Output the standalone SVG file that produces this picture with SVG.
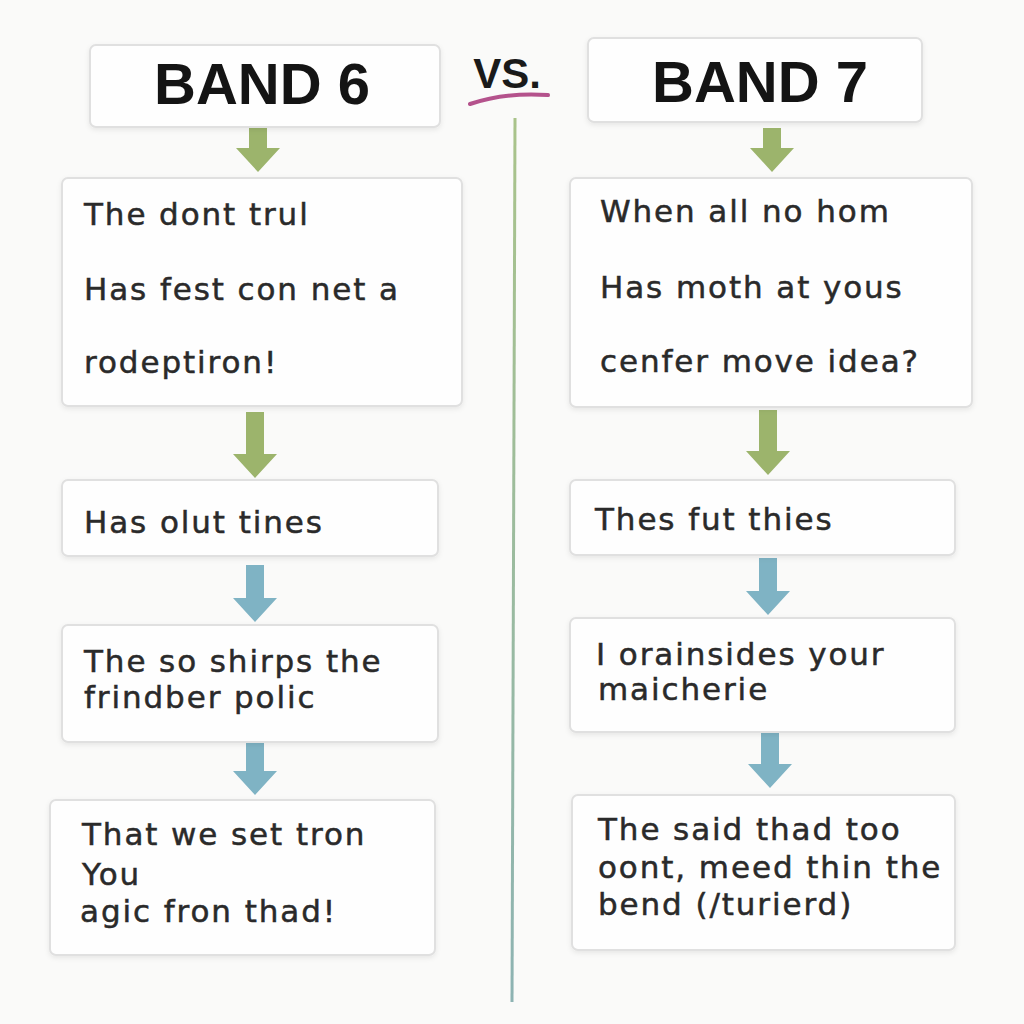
<svg xmlns="http://www.w3.org/2000/svg" width="1024" height="1024" viewBox="0 0 1024 1024">
<defs>
<linearGradient id="vline" x1="0" y1="0" x2="0" y2="1">
<stop offset="0" stop-color="#a9c38a"/>
<stop offset="1" stop-color="#8db3b3"/>
</linearGradient>
<filter id="sh" x="-5%" y="-5%" width="110%" height="115%">
<feDropShadow dx="0" dy="2" stdDeviation="2.5" flood-color="#000" flood-opacity="0.08"/>
</filter>
<style>
.box{fill:#fefefe;stroke:#e0e0e0;stroke-width:2;filter:url(#sh)}
.hd{font-family:"Liberation Sans",Arial,sans-serif;font-weight:bold;font-size:58px;fill:#141414;text-anchor:middle}
.tx{font-family:"DejaVu Sans","Liberation Sans",sans-serif;font-size:31px;letter-spacing:1.9px;fill:#2a2a2a;stroke:#2a2a2a;stroke-width:0.5}
.g{fill:#9cb46c}
.b{fill:#7fb3c4}
</style>
</defs>
<rect width="1024" height="1024" fill="#fafaf9"/>
<g id="connectors">
<line x1="515" y1="118" x2="512" y2="1002" stroke="url(#vline)" stroke-width="3"/>
<path class="g" d="M249 128 H267 V148 H280 L258 172 L236 148 H249 Z"/>
<path class="g" d="M246 412 H264 V454 H277 L255 478 L233 454 H246 Z"/>
<path class="b" d="M246 565 H264 V598 H277 L255 622 L233 598 H246 Z"/>
<path class="b" d="M246 742 H264 V771 H277 L255 795 L233 771 H246 Z"/>
<path class="g" d="M763 128 H781 V148 H794 L772 172 L750 148 H763 Z"/>
<path class="g" d="M759 410 H777 V451 H790 L768 475 L746 451 H759 Z"/>
<path class="b" d="M759 558 H777 V591 H790 L768 615 L746 591 H759 Z"/>
<path class="b" d="M761 732 H779 V764 H792 L770 788 L748 764 H761 Z"/>
</g>
<g id="vs">
<text x="507" y="88" font-family="Liberation Sans,Arial,sans-serif" font-weight="bold" font-size="42" fill="#1a1a1a" text-anchor="middle">VS.</text>
<path d="M470 104 Q505 92 548 95" fill="none" stroke="#b4528c" stroke-width="4" stroke-linecap="round"/>
</g>
<g id="band6">
<rect class="box" x="90" y="45" width="350" height="82" rx="6"/>
<text class="hd" x="262" y="104">BAND 6</text>
</g>
<g id="band7">
<rect class="box" x="588" y="38" width="334" height="84" rx="6"/>
<text class="hd" x="760" y="102">BAND 7</text>
</g>
<g id="l1">
<rect class="box" x="62" y="178" width="400" height="228" rx="6"/>
<text class="tx" x="84" y="225">The dont trul</text>
<text class="tx" x="84" y="300">Has fest con net a</text>
<text class="tx" x="84" y="373">rodeptiron!</text>
</g>
<g id="l2">
<rect class="box" x="62" y="480" width="376" height="76" rx="6"/>
<text class="tx" x="84" y="533">Has olut tines</text>
</g>
<g id="l3">
<rect class="box" x="62" y="625" width="376" height="117" rx="6"/>
<text class="tx" x="84" y="672">The so shirps the</text>
<text class="tx" x="84" y="708">frindber polic</text>
</g>
<g id="l4">
<rect class="box" x="50" y="800" width="385" height="155" rx="6"/>
<text class="tx" x="82" y="845">That we set tron</text>
<text class="tx" x="82" y="885">You</text>
<text class="tx" x="80" y="922">agic fron thad!</text>
</g>
<g id="r1">
<rect class="box" x="570" y="178" width="402" height="229" rx="6"/>
<text class="tx" x="600" y="222">When all no hom</text>
<text class="tx" x="600" y="298">Has moth at yous</text>
<text class="tx" x="600" y="372">cenfer move idea?</text>
</g>
<g id="r2">
<rect class="box" x="570" y="480" width="385" height="75" rx="6"/>
<text class="tx" x="595" y="530">Thes fut thies</text>
</g>
<g id="r3">
<rect class="box" x="570" y="618" width="385" height="114" rx="6"/>
<text class="tx" x="596" y="665">I orainsides your</text>
<text class="tx" x="598" y="700">maicherie</text>
</g>
<g id="r4">
<rect class="box" x="572" y="795" width="383" height="155" rx="6"/>
<text class="tx" x="598" y="840">The said thad too</text>
<text class="tx" x="598" y="878">oont, meed thin the</text>
<text class="tx" x="598" y="915">bend (/turierd)</text>
</g>
</svg>
